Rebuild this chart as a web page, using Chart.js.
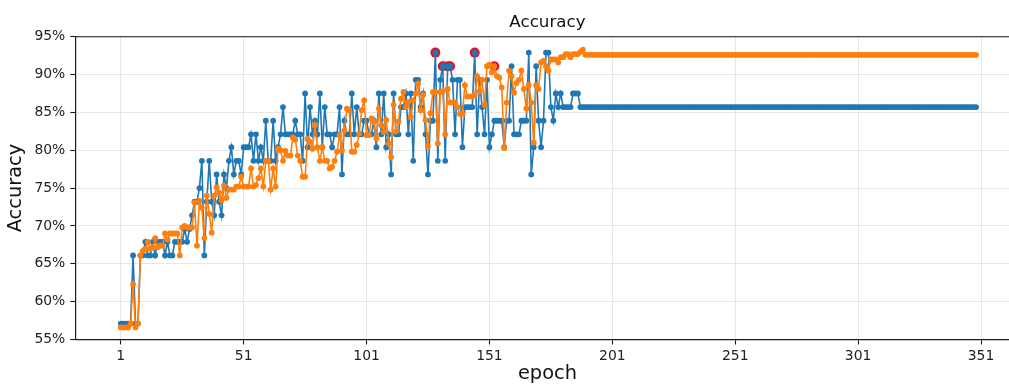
<!DOCTYPE html>
<html>
<head>
<meta charset="utf-8">
<title>Accuracy</title>
<script src="https://cdn.jsdelivr.net/npm/chart.js@4.4.1/dist/chart.umd.min.js"></script>
<style>
  html, body { margin: 0; padding: 0; background: #fff; overflow: hidden; }
  #wrap { width: 1040px; height: 387px; }
</style>
</head>
<body>
<div id="wrap"><canvas id="acc" width="1040" height="387"></canvas></div>
<script>
// validation accuracy per epoch (1..349)
const valAcc = [
  57.1, 57.1, 57.1, 57.1, 57.1, 66.1, 57.1, 57.1, 66.1, 66.1,
  67.9, 66.1, 66.1, 67.9, 66.1, 67.9, 67.9, 67.9, 66.1, 67.9,
  66.1, 66.1, 67.9, 67.9, 67.9, 67.9, 69.6, 67.9, 69.6, 71.4,
  73.2, 73.2, 75.0, 78.6, 66.1, 73.2, 78.6, 73.2, 71.4, 76.8,
  73.2, 71.4, 76.8, 75.0, 78.6, 80.4, 76.8, 78.6, 78.6, 76.8,
  80.4, 80.4, 80.4, 82.1, 78.6, 82.1, 78.6, 80.4, 78.6, 83.9,
  78.6, 78.6, 83.9, 78.6, 80.4, 82.1, 85.7, 82.1, 82.1, 82.1,
  82.1, 83.9, 82.1, 82.1, 78.6, 87.5, 80.4, 85.7, 82.1, 83.9,
  82.1, 87.5, 80.4, 85.7, 82.1, 82.1, 80.4, 82.1, 82.1, 85.7,
  76.8, 83.9, 82.1, 82.1, 87.5, 82.1, 85.7, 82.1, 82.1, 83.9,
  83.9, 82.1, 82.1, 83.9, 80.4, 87.5, 82.1, 87.5, 80.4, 82.1,
  76.8, 87.5, 82.1, 82.1, 85.7, 85.7, 87.5, 82.1, 87.5, 78.6,
  89.3, 89.3, 85.7, 87.5, 82.1, 76.8, 83.9, 83.9, 92.9, 78.6,
  89.3, 91.1, 78.6, 91.1, 91.1, 89.3, 82.1, 89.3, 89.3, 80.4,
  85.7, 85.7, 85.7, 85.7, 92.9, 82.1, 89.3, 85.7, 82.1, 89.3,
  80.4, 82.1, 83.9, 83.9, 83.9, 83.9, 80.4, 83.9, 83.9, 91.1,
  82.1, 82.1, 82.1, 83.9, 83.9, 83.9, 92.9, 76.8, 80.4, 91.1,
  83.9, 80.4, 83.9, 92.9, 92.9, 85.7, 83.9, 87.5, 85.7, 87.5,
  85.7, 85.7, 85.7, 85.7, 87.5, 87.5, 87.5, 85.7, 85.7, 85.7,
  85.7, 85.7, 85.7, 85.7, 85.7, 85.7, 85.7, 85.7, 85.7, 85.7, 85.7, 85.7, 85.7, 85.7, 85.7, 85.7, 85.7, 85.7, 85.7, 85.7,
  85.7, 85.7, 85.7, 85.7, 85.7, 85.7, 85.7, 85.7, 85.7, 85.7, 85.7, 85.7, 85.7, 85.7, 85.7, 85.7, 85.7, 85.7, 85.7, 85.7,
  85.7, 85.7, 85.7, 85.7, 85.7, 85.7, 85.7, 85.7, 85.7, 85.7, 85.7, 85.7, 85.7, 85.7, 85.7, 85.7, 85.7, 85.7, 85.7, 85.7,
  85.7, 85.7, 85.7, 85.7, 85.7, 85.7, 85.7, 85.7, 85.7, 85.7, 85.7, 85.7, 85.7, 85.7, 85.7, 85.7, 85.7, 85.7, 85.7, 85.7,
  85.7, 85.7, 85.7, 85.7, 85.7, 85.7, 85.7, 85.7, 85.7, 85.7, 85.7, 85.7, 85.7, 85.7, 85.7, 85.7, 85.7, 85.7, 85.7, 85.7,
  85.7, 85.7, 85.7, 85.7, 85.7, 85.7, 85.7, 85.7, 85.7, 85.7, 85.7, 85.7, 85.7, 85.7, 85.7, 85.7, 85.7, 85.7, 85.7, 85.7,
  85.7, 85.7, 85.7, 85.7, 85.7, 85.7, 85.7, 85.7, 85.7, 85.7, 85.7, 85.7, 85.7, 85.7, 85.7, 85.7, 85.7, 85.7, 85.7, 85.7,
  85.7, 85.7, 85.7, 85.7, 85.7, 85.7, 85.7, 85.7, 85.7, 85.7, 85.7, 85.7, 85.7, 85.7, 85.7, 85.7, 85.7, 85.7, 85.7
];

// training accuracy per epoch (1..349)
const trainAcc = [
  56.6, 56.6, 56.6, 56.6, 57.1, 62.3, 56.6, 57.1, 66.1, 66.7,
  67.0, 67.9, 67.0, 67.2, 68.4, 67.2, 67.4, 67.4, 69.0, 68.2,
  69.0, 69.0, 69.0, 69.0, 66.1, 69.8, 70.0, 69.8, 69.8, 69.8,
  73.1, 67.4, 73.3, 72.4, 68.4, 74.0, 71.6, 69.1, 74.0, 75.1,
  74.4, 73.4, 75.3, 73.7, 74.8, 74.8, 74.8, 75.2, 75.2, 76.5,
  75.2, 75.2, 75.2, 77.6, 75.2, 75.4, 76.3, 77.6, 75.2, 78.6,
  78.6, 74.8, 77.6, 75.2, 80.2, 80.0, 78.6, 79.9, 79.3, 79.3,
  81.7, 81.4, 79.3, 78.6, 76.5, 76.5, 81.5, 81.1, 80.2, 83.3,
  80.4, 78.6, 80.4, 78.6, 78.6, 77.6, 77.8, 78.6, 79.8, 82.0,
  80.0, 82.6, 85.5, 85.3, 79.8, 79.8, 80.7, 82.2, 85.3, 86.6,
  82.0, 82.0, 84.2, 83.8, 81.6, 85.5, 83.3, 82.4, 84.0, 80.9,
  79.1, 86.0, 82.5, 83.8, 86.8, 87.7, 85.7, 86.4, 84.4, 86.6,
  87.5, 88.8, 85.3, 87.3, 84.0, 80.5, 84.9, 87.7, 87.7, 80.9,
  87.7, 87.8, 82.1, 88.1, 86.3, 86.3, 86.3, 85.7, 84.8, 84.8,
  88.6, 87.1, 87.1, 87.1, 87.3, 89.8, 87.8, 89.3, 86.0, 91.1,
  91.3, 90.3, 91.1, 89.8, 89.6, 88.3, 80.3, 86.3, 90.5, 89.8,
  87.6, 88.9, 89.3, 90.5, 88.1, 85.5, 88.6, 86.3, 81.0, 88.6,
  88.1, 91.6, 91.8, 91.1, 90.5, 92.0, 92.0, 92.0, 91.6, 92.3,
  92.3, 92.7, 92.7, 92.3, 92.7, 92.7, 92.7, 93.0, 93.3, 92.6,
  92.6, 92.6, 92.6, 92.6, 92.6, 92.6, 92.6, 92.6, 92.6, 92.6, 92.6, 92.6, 92.6, 92.6, 92.6, 92.6, 92.6, 92.6, 92.6, 92.6,
  92.6, 92.6, 92.6, 92.6, 92.6, 92.6, 92.6, 92.6, 92.6, 92.6, 92.6, 92.6, 92.6, 92.6, 92.6, 92.6, 92.6, 92.6, 92.6, 92.6,
  92.6, 92.6, 92.6, 92.6, 92.6, 92.6, 92.6, 92.6, 92.6, 92.6, 92.6, 92.6, 92.6, 92.6, 92.6, 92.6, 92.6, 92.6, 92.6, 92.6,
  92.6, 92.6, 92.6, 92.6, 92.6, 92.6, 92.6, 92.6, 92.6, 92.6, 92.6, 92.6, 92.6, 92.6, 92.6, 92.6, 92.6, 92.6, 92.6, 92.6,
  92.6, 92.6, 92.6, 92.6, 92.6, 92.6, 92.6, 92.6, 92.6, 92.6, 92.6, 92.6, 92.6, 92.6, 92.6, 92.6, 92.6, 92.6, 92.6, 92.6,
  92.6, 92.6, 92.6, 92.6, 92.6, 92.6, 92.6, 92.6, 92.6, 92.6, 92.6, 92.6, 92.6, 92.6, 92.6, 92.6, 92.6, 92.6, 92.6, 92.6,
  92.6, 92.6, 92.6, 92.6, 92.6, 92.6, 92.6, 92.6, 92.6, 92.6, 92.6, 92.6, 92.6, 92.6, 92.6, 92.6, 92.6, 92.6, 92.6, 92.6,
  92.6, 92.6, 92.6, 92.6, 92.6, 92.6, 92.6, 92.6, 92.6, 92.6, 92.6, 92.6, 92.6, 92.6, 92.6, 92.6, 92.6, 92.6, 92.6
];

// epochs flagged with a red ring
const markedEpochs = [129, 132, 134, 135, 145, 153];
const markedAcc = [92.9, 91.1, 91.1, 91.1, 92.9, 91.1];

const epochTicks = [1, 51, 101, 151, 201, 251, 301, 351];
const accTicks = [55, 60, 65, 70, 75, 80, 85, 90, 95];

const BLUE = '#1f77b4';
const ORANGE = '#ff7f0e';
const RING = '#e3122b';
const FONT = 'DejaVu Sans';
const INK = '#1a1a1a';

function toPoints(values) {
  return values.map((v, i) => ({x: i + 1, y: v}));
}

// top + right spine, the axes only draw left and bottom
const frame = {
  id: 'frame',
  afterDraw(chart) {
    const {ctx, chartArea} = chart;
    ctx.save();
    ctx.strokeStyle = INK;
    ctx.lineWidth = 1.1;
    ctx.beginPath();
    ctx.moveTo(chartArea.left, chartArea.top);
    ctx.lineTo(chartArea.right, chartArea.top);
    ctx.lineTo(chartArea.right, chartArea.bottom);
    ctx.stroke();
    ctx.restore();
  }
};

new Chart(document.getElementById('acc'), {
  type: 'line',
  data: {
    datasets: [
      {
        label: 'train',
        data: toPoints(trainAcc),
        borderColor: ORANGE,
        backgroundColor: ORANGE,
        borderWidth: 1.6,
        pointRadius: 2.9,
        pointBorderWidth: 0,
        tension: 0,
        order: 0
      },
      {
        label: 'val',
        data: toPoints(valAcc),
        borderColor: BLUE,
        backgroundColor: BLUE,
        borderWidth: 1.6,
        pointRadius: 2.9,
        pointBorderWidth: 0,
        tension: 0,
        order: 1
      },
      {
        label: 'marked',
        data: markedEpochs.map((e, i) => ({x: e, y: markedAcc[i]})),
        showLine: false,
        backgroundColor: RING,
        borderColor: RING,
        pointRadius: 5,
        pointBorderWidth: 0,
        order: 2
      }
    ]
  },
  options: {
    responsive: false,
    animation: false,
    devicePixelRatio: 1,
    events: [],
    layout: { padding: { left: 0, right: 20.4, top: 0, bottom: 0 } },
    plugins: {
      legend: { display: false },
      tooltip: { enabled: false },
      title: {
        display: true,
        text: 'Accuracy',
        fullSize: false,
        color: '#111',
        font: { family: FONT, size: 16.7, weight: 'normal', lineHeight: 1 },
        padding: { top: 14.25, bottom: 5.75 }
      }
    },
    scales: {
      x: {
        type: 'linear',
        min: -17.5,
        max: 366.7,
        afterBuildTicks: s => { s.ticks = epochTicks.map(v => ({value: v})); },
        afterFit: s => { s.height = 47.5; },
        grid: { color: '#e6e6e6', lineWidth: 1, tickLength: 5, tickColor: INK, tickWidth: 1.1 },
        border: { display: true, color: INK, width: 1.2 },
        ticks: {
          autoSkip: false,
          maxRotation: 0,
          padding: 4,
          color: '#222',
          font: { family: FONT, size: 13.9 },
          callback: v => String(v)
        },
        title: {
          display: true,
          text: 'epoch',
          color: '#111',
          font: { family: FONT, size: 19.4, lineHeight: 1 },
          padding: { top: 0, bottom: 3 }
        }
      },
      y: {
        min: 55,
        max: 95,
        afterBuildTicks: s => { s.ticks = accTicks.map(v => ({value: v})); },
        afterFit: s => { s.width = 75.3; },
        grid: { color: '#e6e6e6', lineWidth: 1, tickLength: 5, tickColor: INK, tickWidth: 1.1 },
        border: { display: true, color: INK, width: 1.2 },
        ticks: {
          padding: 5,
          color: '#222',
          font: { family: FONT, size: 13.9 },
          callback: v => v + '%'
        },
        title: {
          display: true,
          text: 'Accuracy',
          color: '#111',
          font: { family: FONT, size: 19.4, lineHeight: 1 },
          padding: { top: 6.5, bottom: 0 }
        }
      }
    }
  },
  plugins: [frame]
});
</script>
</body>
</html>
